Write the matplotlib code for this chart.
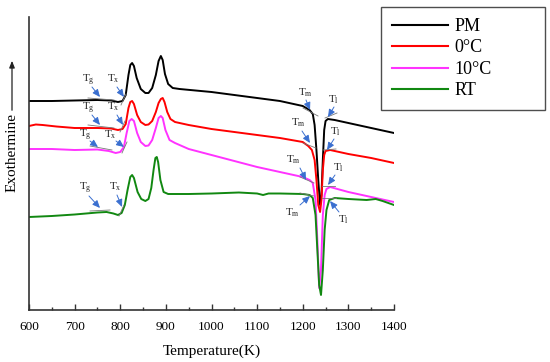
import matplotlib
matplotlib.use("Agg")
import matplotlib.pyplot as plt
import numpy as np

plt.rcParams['font.family'] = ['Liberation Serif', 'DejaVu Serif']
plt.rcParams['mathtext.fontset'] = 'custom'
plt.rcParams['mathtext.rm'] = 'Liberation Serif'
plt.rcParams['mathtext.it'] = 'Liberation Serif'

# ---------------- data (heat flow, arbitrary units; up = exothermic) ----------------
labels = ["PM", "0°C", "10°C", "RT"]
colors = ["#000000", "#ff0000", "#ff33ff", "#118811"]

T_pm = [600, 650, 700, 750, 780, 795, 805, 812, 818, 822, 826, 830, 836, 845, 855, 862, 870, 878, 884, 889,
        893, 898, 905, 915, 930, 1000, 1100, 1150, 1200, 1215, 1222, 1226, 1230, 1234, 1238, 1241, 1244, 1247,
        1250, 1255, 1270, 1300, 1350, 1400]
y_pm = [101, 101, 100.5, 100, 100.5, 102, 101, 95, 75, 65, 63, 66, 78, 89, 93, 93, 88, 75, 61, 56,
        60, 74, 84, 88, 89, 92, 98, 101, 106, 110, 114, 125, 150, 180, 205, 195, 160, 130,
        121, 119, 120, 123, 128, 133]

T_0c = [600, 615, 630, 660, 700, 750, 780, 795, 805, 812, 818, 822, 826, 830, 837, 845, 855, 862, 870, 878,
        884, 889, 893, 897, 903, 910, 920, 950, 1000, 1100, 1150, 1200, 1212, 1220, 1226, 1230, 1234, 1238,
        1241, 1244, 1247, 1250, 1260, 1300, 1350, 1400]
y_0c = [126, 124.5, 125, 126.5, 128, 128, 128.5, 130, 129, 124, 108, 102, 101, 104, 115, 122, 125, 124.5, 121, 112,
        103, 99, 98, 102, 112, 119, 122, 125, 129, 135, 138, 142, 146, 150, 160, 180, 205, 212,
        200, 170, 155, 151, 150, 154, 158, 163]

T_10c = [600, 650, 700, 750, 775, 790, 800, 808, 814, 820, 825, 830, 837, 845, 855, 862, 870, 878, 884, 889,
         893, 899, 908, 920, 950, 1000, 1100, 1150, 1200, 1215, 1222, 1228, 1232, 1236, 1240, 1244, 1248,
         1252, 1260, 1300, 1350, 1400]
y_10c = [149, 149, 150, 149.5, 151, 153, 152, 147, 133, 121, 119, 121, 133, 142, 146, 145.5, 140, 128, 118, 116,
         118, 130, 140, 143, 149, 155, 167, 172, 177, 180, 183, 200, 240, 288, 270, 215, 195,
         189, 187, 192, 197, 202]

T_rt = [600, 650, 700, 750, 770, 785, 795, 803, 810, 816, 822, 826, 830, 838, 846, 855, 862, 868, 873, 877,
        880, 883, 888, 895, 905, 950, 1000, 1060, 1100, 1113, 1125, 1150, 1200, 1215, 1222, 1228, 1232, 1236,
        1240, 1244, 1248, 1252, 1258, 1270, 1300, 1340, 1360, 1375, 1400]
y_rt = [217, 216, 214.5, 212.5, 212, 213.5, 215, 213, 205, 190, 177, 175, 178, 192, 199, 201, 199, 188, 170, 158,
        157, 162, 180, 192, 194, 194, 193.5, 192.5, 193.5, 195, 193.5, 193.5, 194, 195, 198, 215, 250, 285,
        295, 270, 230, 210, 200, 198, 199, 200, 199, 201, 205]

series_T = [T_pm, T_0c, T_10c, T_rt]
series_y = [y_pm, y_0c, y_10c, y_rt]

x_ticks = [600, 700, 800, 900, 1000, 1100, 1200, 1300, 1400]
TOP = 310  # signal scale reference (values above are plotted as TOP - y)

# ---------------- figure ----------------
fig = plt.figure(figsize=(5.5, 3.62), dpi=100)
ax = fig.add_axes([29/550, 1-310/362, (394-29)/550, (310-17)/362])

for T, y, c, lab in zip(series_T, series_y, colors, labels):
    ax.plot(T, TOP - np.array(y), color=c, lw=1.4, label=lab)

ax.set_xlim(600, 1400)
ax.set_ylim(0, 293)
ax.set_xticks(x_ticks)
ax.set_xticks(np.arange(650, 1400, 100), minor=True)
ax.set_yticks([])
for s in ['top', 'right']:
    ax.spines[s].set_visible(False)
for s in ['left', 'bottom']:
    ax.spines[s].set_linewidth(1.2)
    ax.spines[s].set_color('#333333')
ax.tick_params(axis='x', which='major', direction='in', length=4, width=1.0, labelsize=9.5, pad=8, color='#333333')
ax.tick_params(axis='x', which='minor', direction='in', length=2.5, width=1.0, color='#333333')
ax.set_xlabel("Temperature(K)", fontsize=11, labelpad=8)

# y label with arrow
fig.text(12/550, 1-153/362, "Exothermine", rotation=90, ha='center', va='center', fontsize=11)
fig.add_artist(matplotlib.patches.FancyArrowPatch((12/550, 1-113/362), (12/550, 1-58/362),
               transform=fig.transFigure, arrowstyle='-|>,head_length=4,head_width=1.6',
               color='#222222', lw=0.9))

# ---------------- annotations ----------------
blue = '#3a6fd0'
def P(px, py):
    return (600 + (px - 29) / 0.45625, TOP - py)

ann = [
    # (label, text px, arrow start px, arrow end px)
    ("T$_\\mathrm{g}$", (88, 80), (92, 87), (100, 97)),
    ("T$_\\mathrm{x}$", (113, 79), (117, 87), (124, 97)),
    ("T$_\\mathrm{g}$", (88, 108), (92, 115), (100, 125)),
    ("T$_\\mathrm{x}$", (113, 107), (117, 115), (123, 125)),
    ("T$_\\mathrm{g}$", (85, 135), (90, 141), (98, 147)),
    ("T$_\\mathrm{x}$", (110, 135), (116, 141), (124, 147)),
    ("T$_\\mathrm{g}$", (85, 188), (89, 196), (100, 208)),
    ("T$_\\mathrm{x}$", (115, 187), (117, 195), (122, 207)),
    ("T$_\\mathrm{m}$", (305, 93), (306, 100), (310, 110)),
    ("T$_\\mathrm{l}$", (333, 100), (334, 107), (328, 117)),
    ("T$_\\mathrm{m}$", (298, 123), (302, 131), (310, 143)),
    ("T$_\\mathrm{l}$", (335, 132), (334, 139), (327, 150)),
    ("T$_\\mathrm{m}$", (293, 160), (300, 168), (306, 180)),
    ("T$_\\mathrm{l}$", (338, 168), (335, 175), (328, 185)),
    ("T$_\\mathrm{m}$", (292, 213), (300, 205), (310, 196)),
    ("T$_\\mathrm{l}$", (343, 220), (339, 212), (330, 201)),
]
for txt, tp, a0, a1 in ann:
    ax.text(*P(*tp), txt, fontsize=8, ha='center', va='center', color='#222222')
    ax.annotate("", xy=P(*a1), xytext=P(*a0),
                arrowprops=dict(arrowstyle='-|>,head_length=0.45,head_width=0.2', color=blue, lw=0.7,
                                shrinkA=0, shrinkB=0))

tangents = [
    ((88, 98), (114, 100)), ((121, 105), (126, 94)),
    ((88, 125), (114, 128)), ((120, 132), (125, 121)),
    ((90, 146), (112, 150)), ((122, 153), (127, 142)),
    ((90, 211), (110, 210)), ((119, 216), (124, 205)),
    ((303, 108), (318, 116)), ((325, 118), (337, 113)),
    ((303, 143), (316, 148)), ((323, 150), (336, 149)),
    ((300, 177), (314, 183)), ((322, 186), (335, 186)),
    ((300, 193), (314, 196)), ((322, 198), (336, 198)),
]
for p0, p1 in tangents:
    a, b = P(*p0), P(*p1)
    ax.plot([a[0], b[0]], [a[1], b[1]], color='#777777', lw=0.6)

# ---------------- legend ----------------
leg = fig.legend(loc='upper left', bbox_to_anchor=(381/550, 1-110/362, 164/550, 103/362), mode='expand',
                 fontsize=13, frameon=True, fancybox=False, handlelength=3.1, labelspacing=0.25,
                 borderpad=0.6, handletextpad=0.35, borderaxespad=0)
leg.get_frame().set_edgecolor('#222222')
leg.get_frame().set_linewidth(1.0)
for l in leg.get_lines():
    l.set_linewidth(1.5)

fig.savefig("out.png", dpi=100)
